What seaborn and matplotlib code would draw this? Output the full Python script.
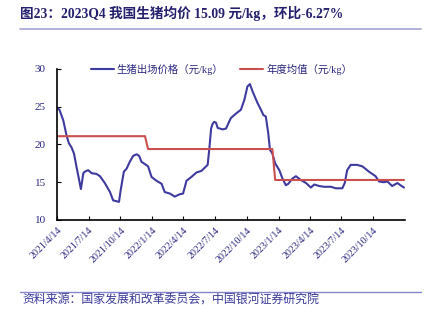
import matplotlib
matplotlib.use("Agg")
import matplotlib.pyplot as plt
from matplotlib.lines import Line2D
from matplotlib.font_manager import FontProperties
import seaborn as sns
import pandas as pd

# 生猪出场价格（元/kg），周度
price_dates = [
    "2021-04-14", "2021-04-21", "2021-05-02", "2021-05-12", "2021-05-18", "2021-05-26",
    "2021-06-02", "2021-06-09", "2021-06-16", "2021-06-22", "2021-06-29", "2021-07-03",
    "2021-07-13", "2021-07-23", "2021-08-06", "2021-08-16", "2021-08-30", "2021-09-14",
    "2021-09-23", "2021-10-10", "2021-10-15", "2021-10-24", "2021-11-01", "2021-11-10",
    "2021-11-20", "2021-11-30", "2021-12-07", "2021-12-14", "2021-12-24", "2022-01-02",
    "2022-01-12", "2022-01-26", "2022-02-10", "2022-02-19", "2022-03-06", "2022-03-20",
    "2022-04-03", "2022-04-13", "2022-04-23", "2022-05-07", "2022-05-22", "2022-06-05",
    "2022-06-14", "2022-06-23", "2022-06-28", "2022-07-03", "2022-07-07", "2022-07-12",
    "2022-07-17", "2022-07-22", "2022-08-05", "2022-08-15", "2022-08-29", "2022-09-13",
    "2022-09-27", "2022-10-07", "2022-10-16", "2022-10-23", "2022-10-31", "2022-11-14",
    "2022-11-24", "2022-12-01", "2022-12-08", "2022-12-15", "2022-12-20", "2022-12-27",
    "2023-01-04", "2023-01-16", "2023-01-25", "2023-02-04", "2023-02-11", "2023-02-23",
    "2023-03-05", "2023-03-19", "2023-04-03", "2023-04-17", "2023-04-27", "2023-05-11",
    "2023-05-25", "2023-06-14", "2023-06-28", "2023-07-17", "2023-07-24", "2023-07-31",
    "2023-08-10", "2023-08-29", "2023-09-13", "2023-10-02", "2023-10-21", "2023-10-31",
    "2023-11-14", "2023-11-24", "2023-12-08", "2023-12-23", "2024-01-01", "2024-01-11",
]
price_values = [
    24.9, 24.6, 23.2, 21.1, 20.2, 19.6,
    18.8, 17.1, 15.5, 14.1, 16.2, 16.4,
    16.6, 16.2, 16.1, 15.8, 14.9, 13.7,
    12.6, 12.4, 14.0, 16.4, 16.8, 17.7,
    18.5, 18.7, 18.5, 17.7, 17.4, 17.1,
    15.7, 15.2, 14.8, 13.7, 13.5, 13.1,
    13.4, 13.5, 15.2, 15.7, 16.3, 16.5,
    16.9, 17.3, 19.5, 22.1, 22.7, 23.0,
    22.9, 22.2, 22.0, 22.1, 23.5, 24.1,
    24.6, 25.9, 27.7, 28.0, 27.0, 25.5,
    24.6, 23.9, 23.7, 21.5, 19.3, 18.8,
    17.5, 16.6, 15.5, 14.6, 14.8, 15.5,
    15.8, 15.3, 14.9, 14.3, 14.7, 14.5,
    14.4, 14.4, 14.2, 14.2, 14.9, 16.6,
    17.3, 17.3, 17.1, 16.4, 15.8, 15.1,
    15.0, 15.1, 14.5, 14.9, 14.6, 14.3,
]

# 年度均值（元/kg）
avg_years = [2021, 2022, 2023, 2024]
avg_values = [21.1, 19.4, 15.3, 15.3]

tick_labels = [
    "2021/4/14", "2021/7/14", "2021/10/14", "2022/1/14", "2022/4/14", "2022/7/14",
    "2022/10/14", "2023/1/14", "2023/4/14", "2023/7/14", "2023/10/14",
]
y_ticks = [10, 15, 20, 25, 30]

title_text = "图23：2023Q4 我国生猪均价 15.09 元/kg，环比-6.27%"
source_text = "资料来源：国家发展和改革委员会，中国银河证券研究院"
label_price = "生猪出场价格（元/kg）"
label_avg = "年度均值（元/kg）"

navy = "#2a2680"
title_navy = "#24206e"
blue = "#3f3a9e"
red = "#c9504f"
mixed = ["Liberation Serif", "Noto Sans CJK SC", "DejaVu Sans"]

sns.set_theme(style="white")
plt.rcParams["font.family"] = ["Noto Sans CJK SC", "DejaVu Sans"]

df = pd.DataFrame({"date": pd.to_datetime(price_dates), "price": price_values})
year_avg = dict(zip(avg_years, avg_values))
df["avg"] = df["date"].dt.year.map(year_avg)

fig = plt.figure(figsize=(4.31, 3.23), dpi=100)
ax = fig.add_axes([0.1323, 0.3189, 0.8074, 0.4675])

sns.lineplot(data=df, x="date", y="price", ax=ax, color=blue, lw=1.5, legend=False)
sns.lineplot(data=df, x="date", y="avg", ax=ax, color=red, lw=1.5, legend=False)

ax.set_xlim(pd.Timestamp("2021-04-14"), pd.Timestamp("2024-01-14"))
ax.set_ylim(10, 30)
ax.set_xlabel("")
ax.set_ylabel("")

tick_pos = [pd.Timestamp(t.replace("/", "-")) for t in tick_labels]
ax.set_xticks(tick_pos)
ax.set_xticklabels(tick_labels, rotation=45, ha="right", rotation_mode="anchor",
                   fontsize=7.2, color=navy, family="Liberation Serif")
ax.set_yticks(y_ticks)
ax.set_yticklabels([str(v) for v in y_ticks], fontsize=8, color=navy,
                   family="Liberation Serif")

for side in ("top", "right"):
    ax.spines[side].set_visible(False)
for side in ("left", "bottom"):
    ax.spines[side].set_color("black")
    ax.spines[side].set_linewidth(1.2)
ax.tick_params(axis="both", direction="in", length=3, width=0.8, color="black",
               left=True, bottom=True, pad=4)
ax.tick_params(axis="y", pad=8)

handles = [Line2D([], [], color=blue, lw=1.5), Line2D([], [], color=red, lw=1.5)]
leg = ax.legend(handles, [label_price, label_avg], ncol=2, frameon=False,
                loc="center", bbox_to_anchor=(0.473, 1.0),
                prop=FontProperties(family=mixed, size=7.5),
                handlelength=2.2, handletextpad=0.3, columnspacing=1.6)
for t in leg.get_texts():
    t.set_color(navy)

fig.text(20 / 431, 1 - 13 / 323, title_text, fontsize=9.8, fontweight="bold",
         color=title_navy, ha="left", va="center", family=mixed)
fig.add_artist(Line2D([20 / 431, 421 / 431], [1 - 29 / 323] * 2,
                      color="#a3a3d6", lw=1.2, transform=fig.transFigure))
fig.add_artist(Line2D([20 / 431, 421 / 431], [1 - 292 / 323] * 2,
                      color="#8585cc", lw=1.0, transform=fig.transFigure))
fig.text(22 / 431, 1 - 300 / 323, source_text, fontsize=8.6, color="#3a3a9a",
         style="italic", ha="left", va="center")

fig.savefig("out.png", dpi=100)
